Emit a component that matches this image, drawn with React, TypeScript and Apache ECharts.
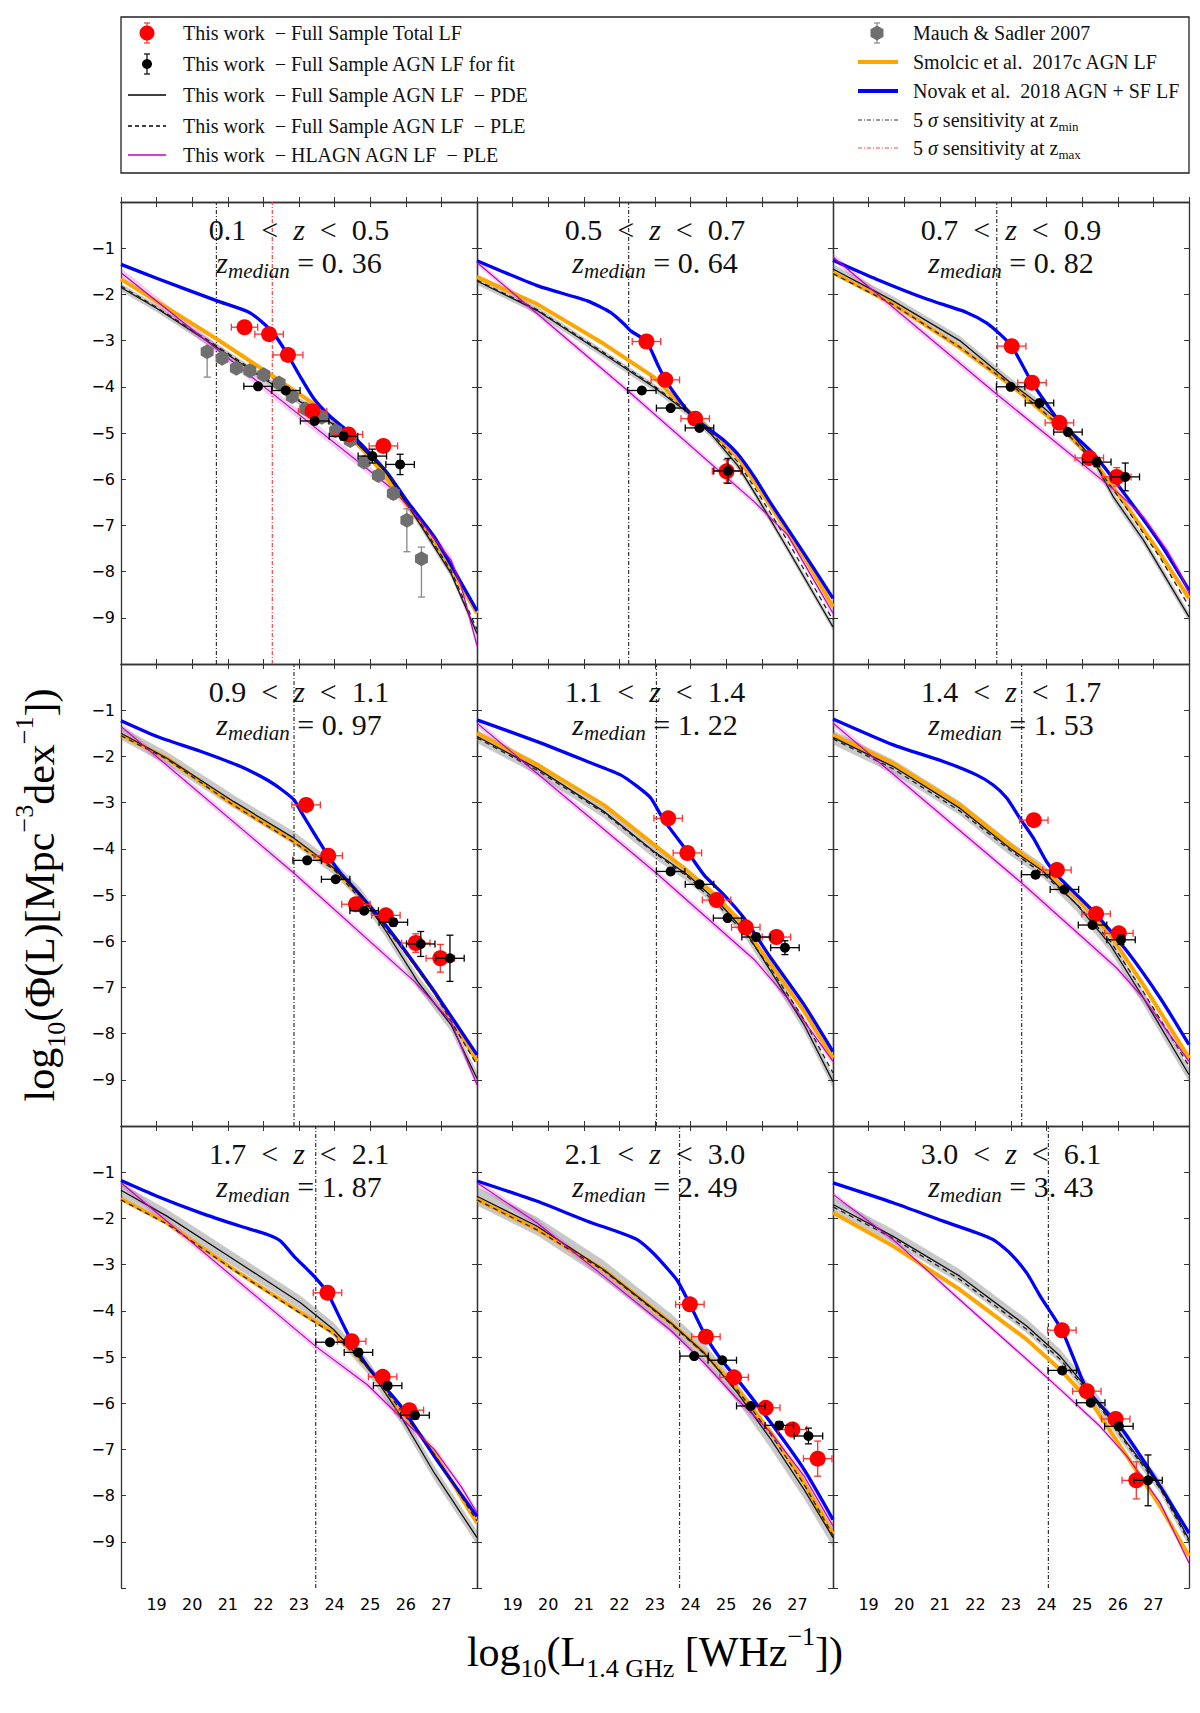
import { useEffect, useRef } from "react";
import * as echarts from "echarts";

// redshift bins, one per panel (row by row)
const zLow = ["0.1", "0.5", "0.7", "0.9", "1.1", "1.4", "1.7", "2.1", "3.0"];
const zHigh = ["0.5", "0.7", "0.9", "1.1", "1.4", "1.7", "2.1", "3.0", "6.1"];
const zMedian = ["0. 36", "0. 64", "0. 82", "0. 97", "1. 22", "1. 53", "1. 87", "2. 49", "3. 43"];

// 5 sigma sensitivity limits, log10 L
const sensZmin = [20.68, 22.26, 22.6, 22.86, 23.04, 23.3, 23.47, 23.69, 24.05];
const sensZmax = [22.25];

// Novak et al. 2018 AGN+SF LF  [logL, logPhi]
const novakLF = [
  [[18, -1.35], [19, -1.65], [20.7, -2.14], [21.55, -2.37], [21.92, -2.57], [22.3, -2.86], [22.67, -3.29], [23.05, -3.8], [23.42, -4.26], [23.9, -4.66], [24.36, -4.95], [24.92, -5.38], [25.5, -5.88], [26.05, -6.49], [26.8, -7.25], [28, -8.85]],
  [[18, -1.27], [19.69, -1.81], [21.1, -2.14], [21.75, -2.39], [22.13, -2.64], [22.32, -2.79], [22.76, -3.02], [23.07, -3.51], [23.29, -3.85], [23.63, -4.23], [24, -4.59], [24.38, -4.84], [24.94, -5.16], [25.32, -5.45], [25.79, -5.95], [26.26, -6.53], [27.19, -7.61], [28, -8.58]],
  [[18, -1.26], [19.22, -1.67], [20.63, -2.1], [21.75, -2.39], [22.32, -2.62], [22.69, -2.86], [23.02, -3.12], [23.3, -3.5], [23.59, -3.91], [24, -4.37], [24.36, -4.75], [25.32, -5.45], [26.26, -6.39], [27.19, -7.39], [28, -8.4]],
  [[18, -1.23], [19.01, -1.57], [20.23, -1.89], [21.36, -2.22], [22.11, -2.51], [22.48, -2.7], [22.86, -2.94], [23.05, -3.19], [23.42, -3.66], [23.82, -4.15], [24.17, -4.53], [24.55, -4.85], [25.2, -5.43], [25.86, -6.08], [26.8, -7.09], [28, -8.46]],
  [[18, -1.21], [19.69, -1.68], [21.1, -2.11], [22.03, -2.4], [22.5, -2.65], [22.88, -2.9], [23.25, -3.38], [23.91, -4.06], [24.38, -4.57], [24.94, -5.0], [25.5, -5.5], [26.26, -6.37], [27.19, -7.38], [28, -8.39]],
  [[18, -1.19], [19.69, -1.75], [21.1, -2.11], [22.03, -2.4], [22.5, -2.62], [22.88, -2.9], [23.25, -3.34], [23.63, -3.77], [24, -4.28], [24.38, -4.64], [25.32, -5.36], [26.26, -6.22], [27.19, -7.23], [28, -8.24]],
  [[18, -1.18], [19.01, -1.52], [20.23, -1.88], [21.36, -2.17], [22.11, -2.35], [22.48, -2.49], [22.86, -2.82], [23.42, -3.25], [23.8, -3.61], [24.17, -4.19], [24.45, -4.62], [24.92, -5.2], [25.86, -6.06], [26.8, -7.15], [28, -8.45]],
  [[18, -1.19], [19.69, -1.63], [21.1, -2.06], [22.03, -2.31], [22.5, -2.46], [22.88, -2.7], [23.25, -3.0], [23.63, -3.35], [23.98, -3.86], [24.43, -4.56], [24.85, -5.05], [25.32, -5.49], [26.26, -6.43], [27.19, -7.44], [28, -8.52]],
  [[18, -1.23], [19.69, -1.66], [21.1, -2.06], [22.03, -2.31], [22.5, -2.46], [22.97, -2.75], [23.44, -3.18], [23.82, -3.68], [24.43, -4.42], [24.85, -5.2], [25.13, -5.7], [25.94, -6.4], [26.26, -6.71], [27.19, -7.8], [28, -8.81]],
];

// Smolcic et al. 2017c AGN LF
const smolcicLF = [
  [[18, -1.67], [20.7, -2.97], [22.11, -3.69], [23.42, -4.37], [23.98, -4.73], [24.92, -5.45], [25.86, -6.38], [26.8, -7.32], [28, -8.9]],
  [[18, -1.62], [19.69, -2.21], [21.56, -3.07], [22.97, -3.79], [23.82, -4.45], [24.38, -4.8], [25.32, -5.52], [26.26, -6.6], [27.19, -7.68], [28, -8.76]],
  [[18, -1.53], [19.69, -2.21], [21.56, -3.15], [23.07, -4.01], [24.38, -4.87], [25.32, -5.59], [26.26, -6.6], [27.19, -7.61], [28, -8.58]],
  [[18, -1.53], [19.29, -2.04], [21.17, -3.05], [22.86, -3.84], [23.98, -4.42], [24.92, -5.21], [25.86, -6.08], [26.8, -7.09], [28, -8.6]],
  [[18, -1.5], [19.69, -2.18], [21.56, -3.05], [22.97, -3.91], [23.82, -4.42], [24.57, -4.92], [25.32, -5.5], [26.26, -6.51], [27.19, -7.52], [28, -8.53]],
  [[18, -1.53], [19.69, -2.15], [21.56, -3.05], [22.97, -3.91], [23.91, -4.46], [24.85, -5.07], [25.79, -5.86], [26.72, -6.95], [28, -8.53]],
  [[18, -1.58], [19.29, -2.1], [21.17, -3.11], [23.05, -4.04], [23.98, -4.48], [24.92, -5.2], [25.86, -6.14], [26.8, -7.08], [28, -8.59]],
  [[18, -1.59], [19.69, -2.24], [21.56, -3.11], [23.44, -4.26], [24.38, -4.91], [25.32, -5.7], [26.26, -6.64], [27.19, -7.72], [28, -8.84]],
  [[18, -1.88], [19.69, -2.6], [21.56, -3.54], [23.44, -4.62], [24.38, -5.27], [25.32, -6.06], [26.26, -7.15], [27.19, -8.23], [28, -9.31]],
];

// This work, full sample AGN LF, PDE fit
const pdeLF = [
  [[18, -1.85], [19, -2.3], [20.7, -3.15], [22.1, -3.87], [23.42, -4.51], [24.45, -5.09], [25.4, -5.81], [26.33, -6.89], [27.27, -8.04], [28, -9.34]],
  [[18, -1.71], [19.69, -2.35], [21.56, -3.29], [22.97, -4.01], [23.91, -4.55], [24.57, -5.02], [25.32, -5.7], [25.88, -6.4], [26.72, -7.5], [28, -9.2]],
  [[18, -1.45], [19.69, -2.14], [21.56, -3.0], [22.97, -3.9], [23.91, -4.45], [24.57, -4.9], [25.32, -5.59], [25.88, -6.39], [26.72, -7.32], [28, -8.98]],
  [[18, -1.5], [19.29, -2.04], [21.17, -2.98], [22.86, -3.77], [23.98, -4.42], [24.74, -5.0], [25.39, -5.72], [26.33, -6.87], [27.27, -7.81], [28, -8.97]],
  [[18, -1.57], [19.69, -2.26], [21.56, -3.19], [22.97, -4.06], [23.91, -4.56], [24.85, -5.21], [25.6, -5.86], [26.26, -6.66], [27.19, -7.81], [28, -9.04]],
  [[18, -1.59], [19.69, -2.22], [21.56, -3.12], [22.97, -3.99], [23.91, -4.49], [24.85, -5.21], [25.79, -6.08], [26.72, -7.23], [28, -8.89]],
  [[18, -1.39], [19.29, -1.95], [21.17, -2.89], [23.05, -3.83], [23.98, -4.41], [24.92, -5.2], [25.86, -6.28], [26.8, -7.51], [28, -8.91]],
  [[18, -1.52], [19.69, -2.17], [21.56, -3.11], [23.44, -4.26], [24.38, -4.91], [25.32, -5.78], [26.26, -6.79], [27.19, -7.87], [28, -8.91]],
  [[18, -1.7], [19.69, -2.39], [21.56, -3.25], [23.44, -4.33], [24.38, -4.98], [25.32, -5.85], [26.26, -6.86], [27.19, -7.8], [28, -8.95]],
];

// This work, full sample AGN LF, PLE fit
const pleLF = [
  [[18, -1.82], [19, -2.28], [20.7, -3.12], [22.1, -3.84], [23.42, -4.49], [24.45, -5.07], [25.4, -5.78], [26.33, -6.84], [27.27, -7.98], [28, -9.25]],
  [[18, -1.69], [19.69, -2.33], [21.56, -3.26], [22.97, -3.98], [23.91, -4.52], [24.57, -4.98], [25.32, -5.62], [25.88, -6.28], [26.72, -7.33], [28, -9.05]],
  [[18, -1.55], [19.69, -2.22], [21.56, -3.14], [23.07, -4.0], [24.38, -4.85], [25.32, -5.62], [26.26, -6.65], [27.19, -7.7], [28, -8.75]],
  [[18, -1.55], [19.29, -2.06], [21.17, -3.06], [22.86, -3.86], [23.98, -4.45], [24.92, -5.25], [25.86, -6.12], [26.8, -7.12], [28, -8.68]],
  [[18, -1.6], [19.69, -2.3], [21.56, -3.22], [22.97, -4.08], [23.91, -4.6], [24.85, -5.28], [25.6, -5.9], [26.26, -6.6], [27.19, -7.7], [28, -8.85]],
  [[18, -1.62], [19.69, -2.27], [21.56, -3.18], [22.97, -4.03], [23.91, -4.55], [24.85, -5.2], [25.79, -6.0], [26.72, -7.1], [28, -8.7]],
  [[18, -1.6], [19.29, -2.12], [21.17, -3.12], [23.05, -4.06], [23.98, -4.5], [24.92, -5.22], [25.86, -6.15], [26.8, -7.1], [28, -8.55]],
  [[18, -1.6], [19.69, -2.25], [21.56, -3.13], [23.44, -4.28], [24.38, -4.93], [25.32, -5.72], [26.26, -6.68], [27.19, -7.76], [28, -8.86]],
  [[18, -1.75], [19.69, -2.43], [21.56, -3.32], [23.44, -4.4], [24.38, -5.05], [25.32, -5.9], [26.26, -6.9], [27.19, -7.85], [28, -9.0]],
];

// This work, HLAGN AGN LF, PLE fit
const hlagnLF = [
  [[18, -1.53], [22.1, -4.05], [25.67, -6.24], [26.33, -6.82], [27.27, -7.75], [27.55, -8.3], [28, -9.6]],
  [[18, -1.31], [22.26, -4.1], [25.79, -6.49], [26.72, -7.2], [28, -8.9]],
  [[18, -1.19], [22.6, -4.16], [26.07, -6.34], [26.72, -6.82], [27.38, -7.54], [27.76, -8.05], [28, -8.47]],
  [[18, -1.35], [22.86, -4.53], [26.24, -6.87], [27.27, -7.74], [28, -9.11]],
  [[18, -1.28], [23.04, -4.53], [25.79, -6.4], [26.72, -7.23], [28, -8.6]],
  [[18, -1.28], [23.3, -4.74], [25.97, -6.58], [26.72, -7.23], [28, -8.6]],
  [[18, -1.23], [23.47, -4.77], [24.92, -5.6], [26.05, -6.45], [26.8, -7.0], [27.55, -7.8], [28, -8.37]],
  [[18, -1.23], [19.69, -2.1], [21.56, -3.25], [23.44, -4.42], [24.38, -5.13], [25.32, -5.92], [26.26, -6.64], [27.19, -7.58], [28, -8.66]],
  [[18, -1.48], [19.69, -2.46], [21.56, -3.76], [23.44, -5.05], [24.38, -5.7], [25.5, -6.5], [26.26, -7.15], [27.19, -8.16], [28, -9.46]],
];

// half widths of the shaded uncertainty bands (dex)
const pdeBand = [0.08, 0.08, 0.1, 0.14, 0.14, 0.15, 0.15, 0.2, 0.15];
const hlagnBand = [0.1, 0.07, 0.08, 0.08, 0.08, 0.08, 0.08, 0.08, 0.06];

// This work, full sample total LF  [logL, logPhi, xerr, yerr]
const totalLF = [
  [[21.47, -2.71, 0.37, 0.05], [22.16, -2.86, 0.4, 0.05], [22.69, -3.31, 0.42, 0.05], [23.38, -4.53, 0.4, 0.05], [24.39, -5.03, 0.4, 0.05], [25.37, -5.28, 0.4, 0.08]],
  [[22.76, -3.02, 0.4, 0.05], [23.29, -3.85, 0.4, 0.05], [24.13, -4.69, 0.4, 0.05], [25.01, -5.83, 0.4, 0.25]],
  [[23.02, -3.12, 0.4, 0.05], [23.59, -3.91, 0.4, 0.05], [24.36, -4.78, 0.4, 0.05], [25.2, -5.54, 0.4, 0.08], [25.97, -5.95, 0.4, 0.2]],
  [[23.2, -3.05, 0.4, 0.05], [23.82, -4.15, 0.4, 0.05], [24.6, -5.2, 0.4, 0.08], [25.44, -5.44, 0.4, 0.08], [26.28, -6.04, 0.4, 0.2], [26.97, -6.37, 0.4, 0.3]],
  [[23.37, -3.34, 0.4, 0.05], [23.91, -4.09, 0.4, 0.05], [24.73, -5.11, 0.4, 0.05], [25.55, -5.7, 0.4, 0.05], [26.41, -5.91, 0.4, 0.08]],
  [[23.64, -3.38, 0.4, 0.05], [24.29, -4.46, 0.4, 0.05], [25.39, -5.41, 0.4, 0.05], [26.03, -5.83, 0.4, 0.08]],
  [[23.8, -3.61, 0.4, 0.05], [24.48, -4.66, 0.4, 0.05], [25.35, -5.43, 0.4, 0.05], [26.1, -6.15, 0.4, 0.08]],
  [[23.98, -3.86, 0.4, 0.05], [24.43, -4.56, 0.4, 0.05], [25.22, -5.44, 0.4, 0.05], [26.11, -6.1, 0.4, 0.05], [26.86, -6.57, 0.4, 0.08], [27.57, -7.2, 0.4, 0.38]],
  [[24.43, -4.42, 0.4, 0.05], [25.13, -5.74, 0.4, 0.05], [25.94, -6.34, 0.4, 0.08], [26.52, -7.67, 0.4, 0.4]],
];

// This work, full sample AGN LF used for the fit  [logL, logPhi, xerr, yerr]
const agnFitLF = [
  [[21.85, -3.99, 0.4, 0.05], [22.63, -4.08, 0.4, 0.05], [23.44, -4.74, 0.4, 0.05], [24.25, -5.07, 0.4, 0.08], [25.06, -5.5, 0.4, 0.15], [25.84, -5.68, 0.4, 0.22]],
  [[22.63, -4.08, 0.4, 0.05], [23.44, -4.46, 0.4, 0.05], [24.25, -4.89, 0.4, 0.05], [25.05, -5.82, 0.4, 0.27]],
  [[22.99, -4.0, 0.4, 0.05], [23.8, -4.35, 0.4, 0.05], [24.6, -4.98, 0.4, 0.05], [25.41, -5.63, 0.4, 0.1], [26.21, -5.95, 0.4, 0.3]],
  [[23.23, -4.25, 0.4, 0.05], [24.03, -4.66, 0.4, 0.05], [24.83, -5.34, 0.4, 0.05], [25.65, -5.59, 0.4, 0.08], [26.42, -6.06, 0.4, 0.27], [27.24, -6.37, 0.4, 0.5]],
  [[23.44, -4.49, 0.4, 0.05], [24.25, -4.77, 0.4, 0.05], [25.04, -5.5, 0.4, 0.05], [25.84, -5.91, 0.4, 0.08], [26.65, -6.14, 0.4, 0.15]],
  [[23.69, -4.56, 0.4, 0.05], [24.5, -4.88, 0.4, 0.05], [25.29, -5.65, 0.4, 0.05], [26.09, -5.97, 0.4, 0.1]],
  [[23.87, -4.68, 0.4, 0.05], [24.67, -4.9, 0.4, 0.05], [25.49, -5.62, 0.4, 0.05], [26.26, -6.26, 0.4, 0.08]],
  [[24.1, -4.98, 0.4, 0.05], [24.89, -5.07, 0.4, 0.05], [25.69, -6.06, 0.4, 0.05], [26.49, -6.48, 0.4, 0.08], [27.31, -6.71, 0.4, 0.17]],
  [[24.44, -5.29, 0.4, 0.05], [25.24, -5.99, 0.4, 0.05], [26.03, -6.5, 0.4, 0.08], [26.85, -7.67, 0.4, 0.55]],
];

// Mauch & Sadler 2007 (first panel)  [logL, logPhi, errLow, errHigh]
const mauchSadler = [
  [20.42, -3.24, 0.55, 0.1], [20.84, -3.38, 0.05, 0.05], [21.24, -3.6, 0.05, 0.05], [21.62, -3.65, 0.05, 0.05],
  [22.01, -3.74, 0.05, 0.05], [22.44, -3.92, 0.05, 0.05], [22.81, -4.21, 0.05, 0.05], [23.19, -4.48, 0.05, 0.05],
  [23.64, -4.66, 0.05, 0.05], [24.03, -4.95, 0.05, 0.05], [24.44, -5.16, 0.06, 0.06], [24.83, -5.63, 0.08, 0.08],
  [25.23, -5.92, 0.1, 0.1], [25.65, -6.31, 0.12, 0.12], [26.03, -6.89, 0.68, 0.25], [26.44, -7.72, 0.83, 0.25],
];

const SERIF = "'Liberation Serif', 'DejaVu Serif', serif";
const SANS = "'DejaVu Sans', sans-serif";
const LEFT = 121;
const TOP = 202;
const PW = 356;
const PH = 462;
const HEX = "path://M0,-10 L8.66,-5 L8.66,5 L0,10 L-8.66,5 L-8.66,-5 Z";

const lineSeries = (i: number, pts: number[][], color: string, width: number, type: any, z: number, smooth: number | boolean = false) => ({
  type: "line",
  xAxisIndex: 2 * i,
  yAxisIndex: 2 * i,
  data: pts,
  symbol: "none",
  showSymbol: false,
  smooth,
  clip: true,
  silent: true,
  z,
  lineStyle: { color, width, type, join: "round" },
});

const bandSeries = (i: number, pts: number[][], half: number, fill: string, z: number) => ({
  type: "custom",
  xAxisIndex: 2 * i,
  yAxisIndex: 2 * i,
  clip: true,
  silent: true,
  z,
  data: [[pts[0][0], pts[0][1]]],
  encode: { x: 0, y: 1 },
  renderItem: (_p: any, api: any) => {
    const upper = pts.map((p) => api.coord([p[0], p[1] + half]));
    const lower = pts.map((p) => api.coord([p[0], p[1] - half])).reverse();
    return { type: "polygon", shape: { points: upper.concat(lower) }, style: { fill } };
  },
});

// rows of [x, y, xerr, yerrLow, yerrHigh]
const errorSeries = (i: number, rows: number[][], color: string, z: number) => ({
  type: "custom",
  xAxisIndex: 2 * i,
  yAxisIndex: 2 * i,
  clip: false,
  silent: true,
  z,
  data: rows,
  encode: { x: 0, y: 1 },
  renderItem: (_p: any, api: any) => {
    const x = api.value(0);
    const y = api.value(1);
    const xe = api.value(2);
    const lo = api.value(3);
    const hi = api.value(4);
    const st = { stroke: color, lineWidth: 1.3 };
    const kids: any[] = [];
    const seg = (x1: number, y1: number, x2: number, y2: number) =>
      kids.push({ type: "line", shape: { x1, y1, x2, y2 }, style: st });
    const cap = 3.5;
    if (xe > 0) {
      const l = api.coord([x - xe, y]);
      const r = api.coord([x + xe, y]);
      seg(l[0], l[1], r[0], r[1]);
      seg(l[0], l[1] - cap, l[0], l[1] + cap);
      seg(r[0], r[1] - cap, r[0], r[1] + cap);
    }
    if (lo > 0 || hi > 0) {
      const t = api.coord([x, y + hi]);
      const b = api.coord([x, y - lo]);
      seg(t[0], t[1], b[0], b[1]);
      seg(t[0] - cap, t[1], t[0] + cap, t[1]);
      seg(b[0] - cap, b[1], b[0] + cap, b[1]);
    }
    return { type: "group", children: kids };
  },
});

const scatterSeries = (i: number, pts: number[][], color: string, size: number, symbol: string, z: number) => ({
  type: "scatter",
  xAxisIndex: 2 * i,
  yAxisIndex: 2 * i,
  data: pts.map((p) => [p[0], p[1]]),
  symbol,
  symbolSize: size,
  symbolKeepAspect: true,
  silent: true,
  z,
  itemStyle: { color, opacity: 1 },
});

const vlineSeries = (i: number, x: number, color: string) => ({
  type: "line",
  xAxisIndex: 2 * i,
  yAxisIndex: 2 * i,
  data: [[x, -10], [x, 0]],
  symbol: "none",
  silent: true,
  z: 2,
  lineStyle: { color, width: 1.2, type: [4, 2, 1, 2] },
});

const supRich = {
  b: { fontFamily: SERIF, fontSize: 42, lineHeight: 58, fill: "#000" },
  s: { fontFamily: SERIF, fontSize: 26, lineHeight: 26, verticalAlign: "bottom", fill: "#000" },
  p: { fontFamily: SERIF, fontSize: 26, lineHeight: 26, verticalAlign: "top", fill: "#000" },
};

const buildGraphics = () => {
  const els: any[] = [];
  // legend box
  els.push({ type: "rect", shape: { x: 121, y: 17, width: 1068, height: 156 }, style: { fill: "#fff", stroke: "#222", lineWidth: 1.3 }, z: 10 });
  const txt = (x: number, y: number, text: string) =>
    els.push({
      type: "text", x, y, z: 11,
      style: {
        text, fill: "#111", font: `20px ${SERIF}`, align: "left", verticalAlign: "middle",
        rich: {
          n: { fontFamily: SERIF, fontSize: 20, lineHeight: 26, fill: "#111" },
          i: { fontFamily: SERIF, fontSize: 20, fontStyle: "italic", lineHeight: 26, fill: "#111" },
          s: { fontFamily: SERIF, fontSize: 13, lineHeight: 14, verticalAlign: "bottom", fill: "#111" },
        },
      },
    });
  const seg = (x1: number, x2: number, y: number, stroke: string, lineWidth: number, lineDash?: number[]) =>
    els.push({ type: "line", z: 11, shape: { x1, y1: y, x2, y2: y }, style: { stroke, lineWidth, lineDash } });
  const vbar = (x: number, y: number, h: number, stroke: string) => {
    els.push({ type: "line", z: 11, shape: { x1: x, y1: y - h, x2: x, y2: y + h }, style: { stroke, lineWidth: 1.2 } });
    els.push({ type: "line", z: 11, shape: { x1: x - 3, y1: y - h, x2: x + 3, y2: y - h }, style: { stroke, lineWidth: 1.2 } });
    els.push({ type: "line", z: 11, shape: { x1: x - 3, y1: y + h, x2: x + 3, y2: y + h }, style: { stroke, lineWidth: 1.2 } });
  };
  const lx = 147;
  const ltx = 183;
  const rows = [33, 64, 95, 126, 155];
  vbar(lx, rows[0], 10, "#ff3030");
  els.push({ type: "circle", z: 12, shape: { cx: lx, cy: rows[0], r: 7.5 }, style: { fill: "#ff0000" } });
  txt(ltx, rows[0], "{n|This work  − Full Sample Total LF}");
  vbar(lx, rows[1], 10, "#000");
  els.push({ type: "circle", z: 12, shape: { cx: lx, cy: rows[1], r: 5 }, style: { fill: "#000" } });
  txt(ltx, rows[1], "{n|This work  − Full Sample AGN LF for fit}");
  seg(128, 166, rows[2], "#000", 1.3);
  txt(ltx, rows[2], "{n|This work  − Full Sample AGN LF  − PDE}");
  seg(128, 166, rows[3], "#000", 1.3, [4, 3]);
  txt(ltx, rows[3], "{n|This work  − Full Sample AGN LF  − PLE}");
  seg(128, 166, rows[4], "#c000c0", 1.3);
  txt(ltx, rows[4], "{n|This work  − HLAGN AGN LF  − PLE}");

  const rx = 877;
  const rtx = 913;
  const rrows = [33, 62, 91, 120, 148];
  vbar(rx, rrows[0], 10, "#888");
  const hex: number[][] = [];
  for (let k = 0; k < 6; k++) {
    const a = -Math.PI / 2 + (k * Math.PI) / 3;
    hex.push([rx + 7.5 * Math.cos(a), rrows[0] + 7.5 * Math.sin(a)]);
  }
  els.push({ type: "polygon", z: 12, shape: { points: hex }, style: { fill: "#6f6f6f" } });
  txt(rtx, rrows[0], "{n|Mauch & Sadler 2007}");
  seg(858, 898, rrows[1], "#ffa500", 4);
  txt(rtx, rrows[1], "{n|Smolcic et al.  2017c AGN LF}");
  seg(858, 898, rrows[2], "#0000ff", 4);
  txt(rtx, rrows[2], "{n|Novak et al.  2018 AGN + SF LF}");
  seg(858, 898, rrows[3], "#333", 1.2, [4, 2, 1, 2]);
  txt(rtx, rrows[3], "{n|5 }{i|σ}{n| sensitivity at z}{s|min}");
  seg(858, 898, rrows[4], "#ff4040", 1.2, [4, 2, 1, 2]);
  txt(rtx, rrows[4], "{n|5 }{i|σ}{n| sensitivity at z}{s|max}");

  // panel titles
  for (let i = 0; i < 9; i++) {
    const cx = LEFT + (i % 3) * PW + PW / 2;
    const top = TOP + Math.floor(i / 3) * PH;
    els.push({
      type: "text", x: cx, y: top + 27, z: 20,
      style: {
        text: `{n|${zLow[i]}  <  }{i|z}{n|  <  ${zHigh[i]}}`,
        align: "center", verticalAlign: "middle",
        rich: {
          n: { fontFamily: SERIF, fontSize: 30, fill: "#111" },
          i: { fontFamily: SERIF, fontSize: 30, fontStyle: "italic", fill: "#111" },
        },
      },
    });
    els.push({
      type: "text", x: cx, y: top + 60, z: 20,
      style: {
        text: `{i|z}{s|median}{n| = ${zMedian[i]}}`,
        align: "center", verticalAlign: "middle",
        rich: {
          n: { fontFamily: SERIF, fontSize: 30, lineHeight: 38, fill: "#111" },
          i: { fontFamily: SERIF, fontSize: 30, fontStyle: "italic", lineHeight: 38, fill: "#111" },
          s: { fontFamily: SERIF, fontSize: 21, fontStyle: "italic", lineHeight: 22, verticalAlign: "bottom", fill: "#111" },
        },
      },
    });
  }

  // axis titles
  els.push({
    type: "text", x: 40, y: TOP + (3 * PH) / 2, rotation: Math.PI / 2, z: 20,
    style: {
      text: "{b|log}{s|10}{b|(Φ(L)[Mpc}{p|−3}{b|dex}{p|−1}{b|])}",
      align: "center", verticalAlign: "middle", rich: supRich,
    },
  });
  els.push({
    type: "text", x: LEFT + (3 * PW) / 2, y: 1652, z: 20,
    style: {
      text: "{b|log}{s|10}{b|(L}{s|1.4 GHz}{b| [WHz}{p|−1}{b|])}",
      align: "center", verticalAlign: "middle", rich: supRich,
    },
  });
  return els;
};

const App: React.FC = () => {
  const chartRef = useRef<HTMLDivElement>(null);

  useEffect(() => {
    document.body.style.margin = "0";
    if (!chartRef.current) return;
    const chart = echarts.init(chartRef.current, undefined, { renderer: "svg" });

    const grid: any[] = [];
    const xAxis: any[] = [];
    const yAxis: any[] = [];
    const series: any[] = [];
    const axisLine = { show: true, lineStyle: { color: "#333", width: 1.3 } };
    const axisTick = { show: true, inside: true, length: 5, lineStyle: { color: "#333", width: 1 } };

    for (let i = 0; i < 9; i++) {
      const col = i % 3;
      const row = Math.floor(i / 3);
      grid.push({
        left: LEFT + col * PW, top: TOP + row * PH, width: PW, height: PH,
        containLabel: false, outerBoundsMode: "none",
      });
      const xBase = { gridIndex: i, type: "value", min: 18, max: 28, interval: 1, splitLine: { show: false }, axisLine, axisTick };
      xAxis.push({
        ...xBase, position: "bottom",
        axisLabel: {
          show: row === 2, margin: 8, color: "#000", fontFamily: SANS, fontSize: 16,
          formatter: (v: number) => (v === 18 || v === 28 ? "" : String(v)),
        },
      });
      xAxis.push({ ...xBase, position: "top", axisLabel: { show: false } });
      const yBase = { gridIndex: i, type: "value", min: -10, max: 0, interval: 1, splitLine: { show: false }, axisLine, axisTick };
      yAxis.push({
        ...yBase, position: "left",
        axisLabel: {
          show: col === 0, margin: 6, color: "#000", fontFamily: SANS, fontSize: 16,
          formatter: (v: number) => (v === 0 || v === -10 ? "" : "\u2212" + Math.abs(v)),
        },
      });
      yAxis.push({ ...yBase, position: "right", axisLabel: { show: false } });

      series.push(bandSeries(i, pdeLF[i], pdeBand[i], "rgba(110,110,110,0.38)", 1));
      series.push(bandSeries(i, hlagnLF[i], hlagnBand[i], "rgba(200,60,200,0.25)", 1));
      series.push(vlineSeries(i, sensZmin[i], "#333"));
      if (i < sensZmax.length) series.push(vlineSeries(i, sensZmax[i], "#ff4040"));
      series.push(lineSeries(i, smolcicLF[i], "#ffa500", 4, "solid", 2));
      series.push(lineSeries(i, novakLF[i], "#0000ff", 3.3, "solid", 3, 0.2));
      series.push(lineSeries(i, pdeLF[i], "#111", 1.3, "solid", 4));
      series.push(lineSeries(i, pleLF[i], "#222", 1.3, [5, 4], 4));
      series.push(lineSeries(i, hlagnLF[i], "#c000c0", 1.2, "solid", 4));
      if (i === 0) {
        series.push(errorSeries(i, mauchSadler.map((p) => [p[0], p[1], 0, p[2], p[3]]), "#888", 5));
        series.push(scatterSeries(i, mauchSadler, "#6f6f6f", 15, HEX, 5));
      }
      series.push(errorSeries(i, totalLF[i].map((p) => [p[0], p[1], p[2], p[3], p[3]]), "#ff3030", 6));
      series.push(scatterSeries(i, totalLF[i], "#ff0000", 16, "circle", 6));
      series.push(errorSeries(i, agnFitLF[i].map((p) => [p[0], p[1], p[2], p[3], p[3]]), "#000", 7));
      series.push(scatterSeries(i, agnFitLF[i], "#000", 10, "circle", 7));
    }

    chart.setOption({
      animation: false,
      backgroundColor: "#fff",
      grid,
      xAxis,
      yAxis,
      series,
      graphic: { elements: buildGraphics() },
    });

    return () => {
      chart.dispose();
    };
  }, []);

  return <div ref={chartRef} style={{ width: "1200px", height: "1713px" }} />;
};

export default App;
